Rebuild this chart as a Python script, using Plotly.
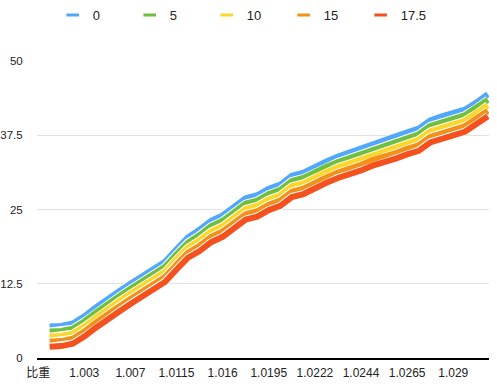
import plotly.graph_objects as go

categories = ["比重", "1.000", "1.001", "1.002", "1.003", "1.004", "1.005", "1.006", "1.007",
              "1.008", "1.009", "1.010", "1.0115", "1.0125", "1.0135", "1.015", "1.016",
              "1.017", "1.018", "1.019", "1.0195", "1.020", "1.021", "1.0215", "1.0222",
              "1.0228", "1.0233", "1.0238", "1.0244", "1.0249", "1.0254", "1.026", "1.0265",
              "1.027", "1.0277", "1.0283", "1.029", "1.0296", "1.0302", "1.031"]
tick_labels = ["比重", "1.003", "1.007", "1.0115", "1.016", "1.0195", "1.0222", "1.0244", "1.0265", "1.029"]
series_names = ["0", "5", "10", "15", "17.5"]

s0 = [5.3, 5.4, 5.8, 7.0, 8.5, 10.0, 11.2, 12.5, 13.7, 14.9, 16.2, 18.3, 20.3, 21.6, 23.1, 24.0,
      25.3, 26.9, 27.4, 28.5, 29.2, 30.7, 31.2, 32.2, 33.1, 33.9, 34.6, 35.3, 36.1, 36.6, 37.3,
      38.0, 38.6, 40.0, 40.7, 41.2, 41.8, 43.0, 44.4]
s5 = [4.45, 4.55, 4.95, 6.15, 7.65, 9.15, 10.35, 11.65, 12.85, 14.05, 15.35, 17.45, 19.45,
      20.7, 22.2, 23.1, 24.4, 26.0, 26.5, 27.6, 28.3, 29.8, 30.3, 31.3, 32.2, 33.0,
      33.67, 34.37, 35.17, 35.67, 36.37, 37.07, 37.67, 39.07, 39.77, 40.27, 40.87, 42.07, 43.47]
s10 = [3.6, 3.7, 4.1, 5.3, 6.8, 8.3, 9.5, 10.8, 12.0, 13.2, 14.5, 16.6, 18.6,
       19.8, 21.3, 22.2, 23.5, 25.1, 25.6, 26.7, 27.4, 28.9, 29.4, 30.4, 31.3, 32.1,
       32.74, 33.44, 34.24, 34.74, 35.44, 36.14, 36.74, 38.14, 38.84, 39.34, 39.94, 41.14, 42.54]
s15 = [2.75, 2.85, 3.25, 4.45, 5.95, 7.45, 8.65, 9.95, 11.15, 12.35, 13.65, 15.75, 17.75,
       18.9, 20.4, 21.3, 22.6, 24.2, 24.7, 25.8, 26.5, 28.0, 28.5, 29.5, 30.4, 31.2,
       31.81, 32.51, 33.31, 33.81, 34.51, 35.21, 35.81, 37.21, 37.91, 38.41, 39.01, 40.21, 41.61]
s175 = [1.9, 2.0, 2.4, 3.6, 5.1, 6.6, 7.8, 9.1, 10.3, 11.5, 12.8, 14.9, 16.9,
        18.0, 19.5, 20.4, 21.7, 23.3, 23.8, 24.9, 25.6, 27.1, 27.6, 28.6, 29.5, 30.3,
        30.88, 31.58, 32.38, 32.88, 33.58, 34.28, 34.88, 36.28, 36.98, 37.48, 38.08, 39.28, 40.68]

colors = ["#51a7f9", "#70bf41", "#f9d72b", "#f39019", "#f5511f"]
all_series = [s0, s5, s10, s15, s175]

x_idx = list(range(1, len(categories)))
tick_idx = [categories.index(t) for t in tick_labels]

fig = go.Figure()
for name, vals, col in zip(series_names, all_series, colors):
    fig.add_trace(go.Scatter(x=x_idx, y=vals, mode="lines", line=dict(color="white", width=8),
                             showlegend=False, hoverinfo="skip"))
    fig.add_trace(go.Scatter(x=x_idx, y=vals, mode="lines", name=name,
                             line=dict(color=col, width=6), showlegend=False))
for name, col in zip(series_names, colors):
    fig.add_trace(go.Scatter(x=[None], y=[None], mode="markers", name=name,
                             marker=dict(symbol="line-ew", size=9,
                                         line=dict(color=col, width=3))))

font_family = "Liberation Sans, Arial, Noto Sans CJK SC, sans-serif"
fig.update_layout(
    width=497, height=387,
    margin=dict(l=37, r=8, t=61, b=29, autoexpand=False),
    paper_bgcolor="white", plot_bgcolor="white",
    font=dict(family=font_family, size=12, color="#222"),
    showlegend=True,
    legend=dict(orientation="h", xref="container", yref="container",
                x=0.106, y=1.0, xanchor="left", yanchor="top",
                entrywidth=32, font=dict(size=13, color="#222"),
                itemclick=False),
    xaxis=dict(range=[-0.1, 39.1], tickmode="array", tickvals=tick_idx, ticktext=tick_labels,
               showgrid=False, zeroline=False, showline=True, linecolor="black", linewidth=1.5,
               ticks="outside", ticklen=3, tickcolor="rgba(0,0,0,0)", automargin=False,
               tickfont=dict(size=12, color="#222")),
    yaxis=dict(range=[0, 50], tickvals=[0, 12.5, 25, 37.5, 50],
               ticktext=["0", "12.5", "25", "37.5", "50"],
               showgrid=True, gridcolor="#e2e2e2", gridwidth=1, zeroline=False, showline=False,
               ticks="outside", ticklen=11, tickcolor="rgba(0,0,0,0)", automargin=False,
               tickfont=dict(size=11.5, color="#222")),
)
fig.write_html("out.html", post_script="document.body.style.margin='0';",
               config={"displayModeBar": False})
